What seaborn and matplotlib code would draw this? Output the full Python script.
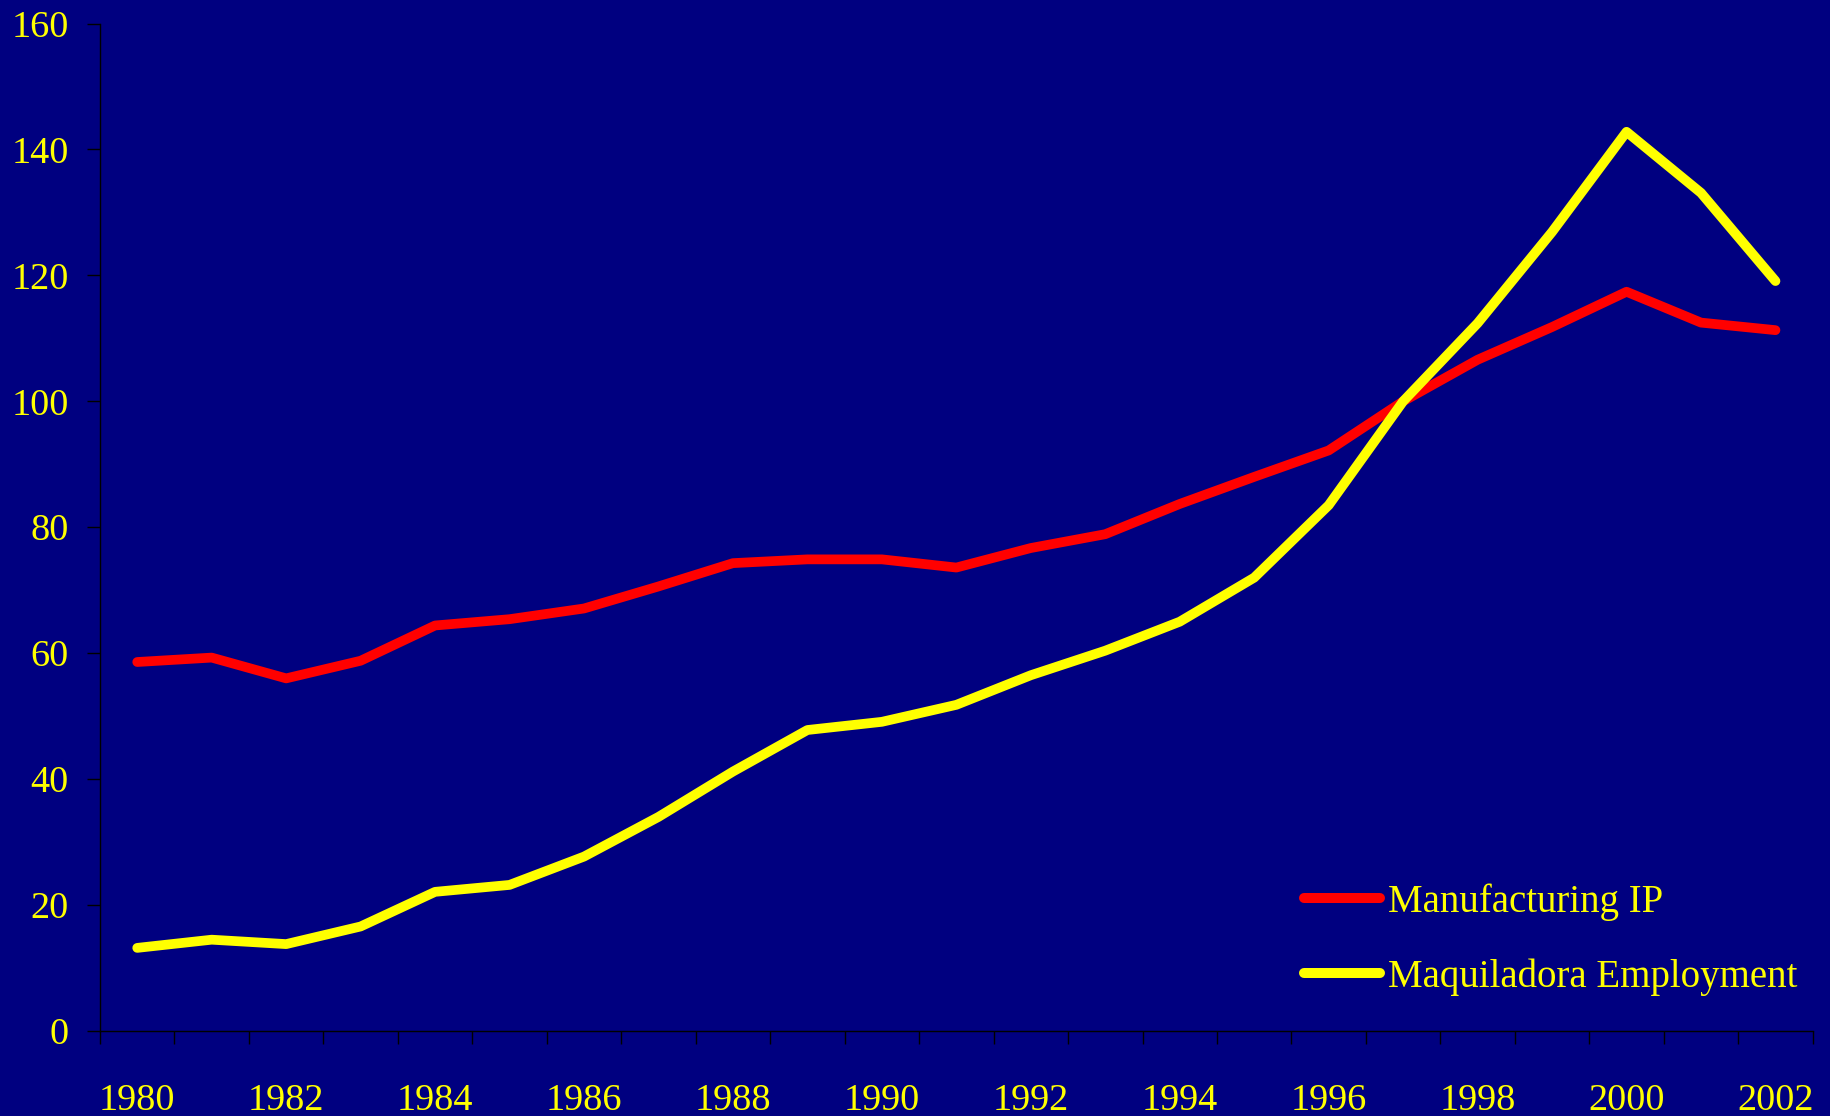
import numpy as np
import pandas as pd
import matplotlib
matplotlib.use("Agg")
import matplotlib.pyplot as plt
import seaborn as sns
from matplotlib.lines import Line2D

years = list(range(1980, 2003))
manufacturing_ip = [58.6, 59.3, 56.0, 58.8, 64.4, 65.4, 67.1, 70.6, 74.3, 74.9, 74.9, 73.6,
                    76.7, 78.9, 83.7, 88.0, 92.2, 100.0, 106.6, 111.8, 117.4, 112.5, 111.3]
maquiladora_emp = [13.2, 14.5, 13.8, 16.6, 22.1, 23.2, 27.7, 34.0, 41.2, 47.8, 49.1, 51.8,
                   56.5, 60.4, 65.0, 72.0, 83.5, 100.0, 112.4, 126.9, 142.8, 133.1, 119.1]
series_names = ["Manufacturing IP", "Maquiladora Employment"]
series_colors = ["#FF0000", "#FFFF00"]
y_ticks = [0, 20, 40, 60, 80, 100, 120, 140, 160]

df = pd.DataFrame({
    "year": years * 2,
    "value": manufacturing_ip + maquiladora_emp,
    "series": [series_names[0]] * len(years) + [series_names[1]] * len(years),
})

sns.set_style("white")
plt.rcParams["font.family"] = ["Liberation Serif", "DejaVu Serif"]

BG = "#000080"
TXT = "#FFFF00"
FS = 27.5
LFS = 28

fig = plt.figure(figsize=(18.3, 11.16), dpi=100, facecolor=BG)
ax = fig.add_axes([100 / 1830, 1 - 1031 / 1116, (1812.7 - 100) / 1830, (1031 - 23.5) / 1116])
ax.set_facecolor(BG)

sns.lineplot(data=df, x="year", y="value", hue="series", hue_order=series_names,
             palette=series_colors, linewidth=7.0, ax=ax, legend=False,
             solid_capstyle="round", solid_joinstyle="round")

ax.set_xlim(1979.5, 2002.5)
ax.set_ylim(0, 160)
ax.set_xlabel("")
ax.set_ylabel("")

for s in ["top", "right"]:
    ax.spines[s].set_visible(False)
for s in ["left", "bottom"]:
    ax.spines[s].set_color("black")
    ax.spines[s].set_linewidth(1.0)

ax.set_yticks(y_ticks)
ax.set_yticklabels([str(v) for v in y_ticks])
ax.tick_params(axis="y", which="major", direction="out", length=9.5, width=1.0,
               color="black", labelcolor=TXT, labelsize=FS, pad=13, left=True)

ax.set_xticks(years[::2])
ax.set_xticklabels([str(y) for y in years[::2]])
ax.set_xticks([y - 0.5 for y in years] + [years[-1] + 0.5], minor=True)
ax.tick_params(axis="x", which="major", length=0, labelcolor=TXT, labelsize=FS, pad=38)
ax.tick_params(axis="x", which="minor", direction="out", length=9.5, width=1.0,
               color="black", bottom=True)

handles = [Line2D([0], [0], color=c, lw=7.2, solid_capstyle="round") for c in series_colors]
leg = ax.legend(handles, series_names, loc="upper left",
                bbox_to_anchor=(1304 / 1830, 1 - 883 / 1116), bbox_transform=fig.transFigure,
                frameon=False, fontsize=LFS, handlelength=1.95, handletextpad=0.2,
                labelspacing=0.97, borderpad=0, borderaxespad=0)
for t in leg.get_texts():
    t.set_color(TXT)

fig.savefig("out.png", dpi=100, facecolor=BG)
